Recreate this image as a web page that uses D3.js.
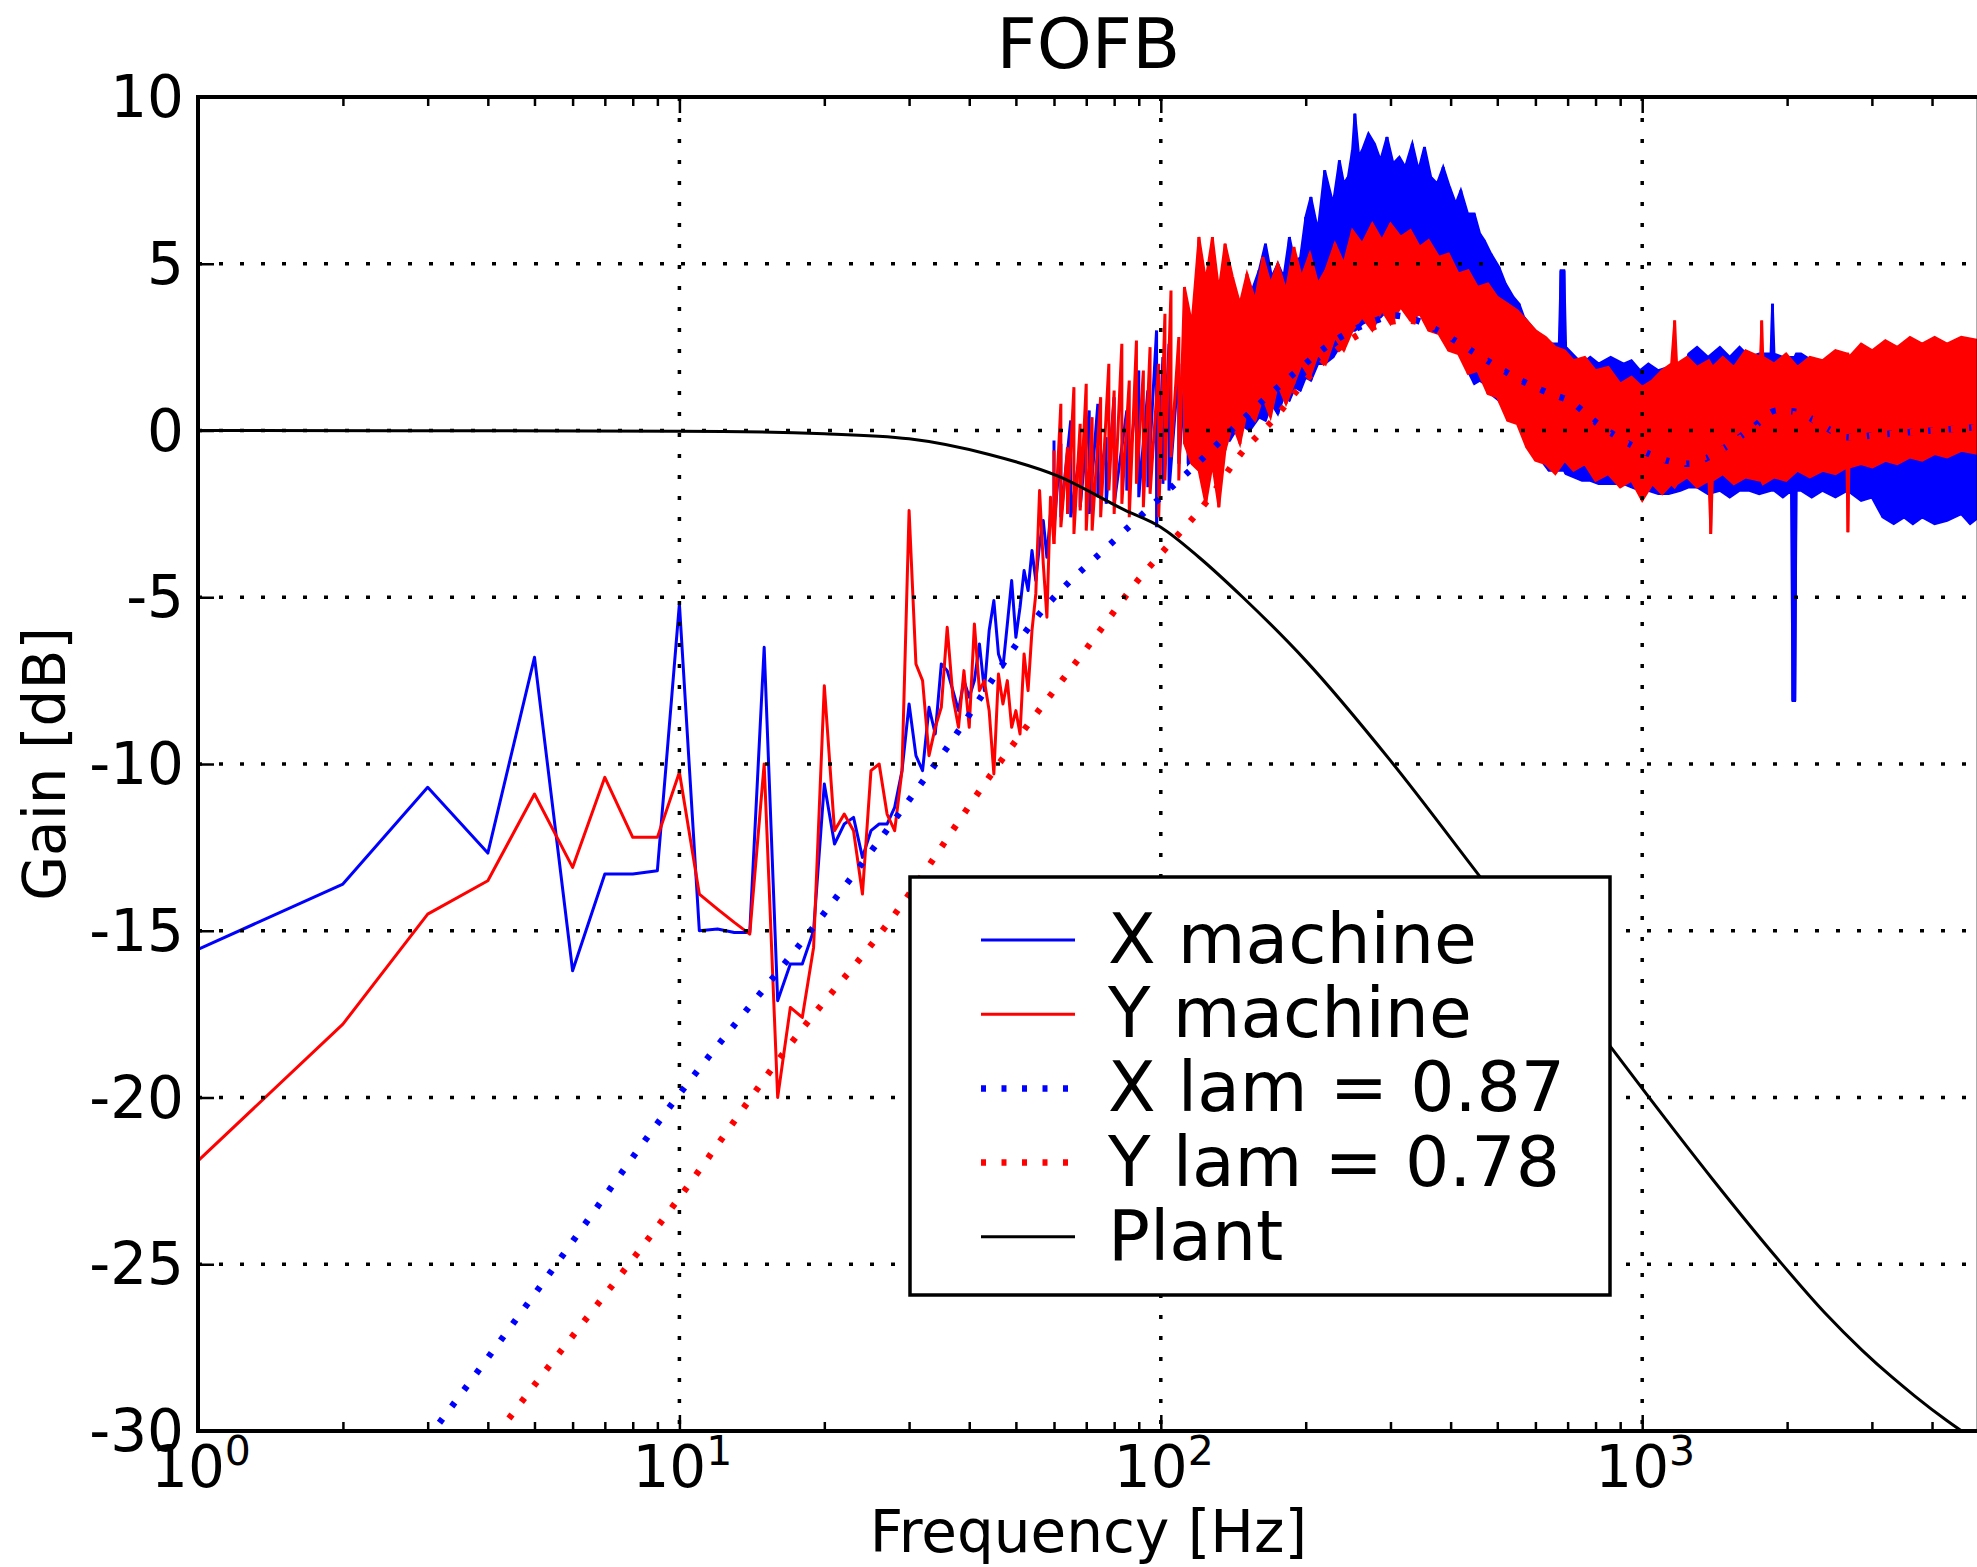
<!DOCTYPE html>
<html>
<head>
<meta charset="utf-8">
<script src="https://cdn.jsdelivr.net/npm/d3@7"></script>
<style>
  body { margin: 0; background: #ffffff; }
  svg { display: block; }
  text { font-family: "DejaVu Sans", sans-serif; fill: #000; }
</style>
</head>
<body>
<svg id="chart" width="1977" height="1567"></svg>
<script>
// ---------------- DATA ----------------
// Low-frequency part: one point per Hz
const lowFreq = [1,2,3,4,5,6,7,8,9,10,11,12,13,14,15,16,17,18,19,20,21,22,23,24,25,26,27,28,29,30,
                 31,32,33,34,35,36,37,38,39,40,41,42,43,44,45,46,47,48,49,50,51,52,53,54,55,56,57,58,59,60];
const xMachineLow = [-15.56,-13.6,-10.7,-12.67,-6.8,-16.2,-13.3,-13.3,-13.2,-5.2,-15.0,-14.95,-15.05,-15.05,-6.5,-17.1,-16.0,-16.0,-15.0,-10.6,
                     -12.4,-11.8,-11.6,-12.8,-12.0,-11.8,-11.8,-11.3,-10.2,-8.2,-9.75,-10.2,-8.3,-9.1,-7.0,-7.2,-7.8,-8.4,-7.5,-8.0,
                     -7.5,-6.4,-7.8,-6.0,-5.1,-6.7,-7.1,-5.8,-4.5,-6.2,-5.3,-4.2,-4.8,-3.6,-4.5,-3.4,-2.7,-3.8,-2.5,-2.9];
const yMachineLow = [-21.9,-17.8,-14.5,-13.5,-10.9,-13.1,-10.4,-12.2,-12.2,-10.25,-13.9,-14.35,-14.75,-15.1,-10.0,-20.0,-17.3,-17.6,-15.5,-7.65,
                     -12.0,-11.5,-12.0,-13.9,-10.2,-10.0,-11.5,-12.0,-10.2,-2.4,-7.0,-7.5,-9.75,-8.9,-8.3,-5.9,-8.0,-8.9,-7.2,-8.9,
                     -5.8,-7.8,-7.5,-8.4,-10.3,-7.3,-8.2,-7.5,-8.9,-8.4,-9.1,-6.7,-7.8,-6.0,-4.9,-1.8,-4.0,-5.6,-2.0,-3.4];

// Dense part (>= 60 Hz): [frequency, upper edge dB, lower edge dB] of the noisy trace
const xMachineBand = [
 [60,-0.3,-2.9],[62,-0.4,-2.6],[65,0.3,-2.6],[68,-0.6,-2.3],[71,0.6,-2.5],[74,0.8,-2.0],[77,-0.2,-2.2],[80,1.0,-2.2],
 [85,0.6,-1.8],[90,1.8,-2.0],[94,1.2,-1.7],[98,3.0,-2.9],[101,2.2,-1.6],[104,2.6,-1.8],[109,2.0,-1.0],[114,3.0,-1.0],
 [118,2.4,-0.8],[121,4.0,-1.0],[126,3.2,-0.6],[130,4.2,-0.5],[135,3.6,-0.2],[139,4.5,-0.3],[146,3.8,0.2],[153,4.0,0.0],
 [160,4.8,0.4],[165,5.6,0.3],[170,4.6,0.8],[175,5.0,0.5],[180,4.6,1.0],[185,5.8,0.9],[190,5.0,1.3],[195,5.2,1.2],
 [200,6.4,1.6],[205,7.0,1.5],[212,6.0,2.0],[219,7.8,2.0],[228,6.8,2.2],[235,8.1,2.5],[240,7.4,2.7],[245,7.6,2.8],
 [250,8.4,3.0],[253,9.5,3.0],[258,8.2,3.1],[262,8.4,3.2],[270,8.9,3.3],[278,8.6,3.5],[286,8.1,3.4],[295,8.8,3.6],
 [304,8.0,3.5],[313,8.2,3.8],[322,7.9,3.6],[333,8.6,3.7],[343,7.8,3.6],[353,8.5,3.5],[364,7.6,3.2],[375,7.4,3.2],
 [386,7.9,3.0],[398,7.3,3.0],[410,6.8,2.6],[420,7.2,2.2],[434,6.5,1.8],[448,6.5,1.4],[460,5.9,1.5],[470,5.7,1.4],
 [485,5.3,1.1],[504,4.9,0.9],[520,4.4,0.6],[540,4.0,0.4],[555,3.8,0.2],[568,3.4,-0.2],[590,3.1,-0.6],[610,2.9,-0.8],
 [640,2.6,-1.2],[672,2.6,-1.2],[678,4.8,-1.2],[688,4.8,-1.2],[694,2.5,-1.3],[750,2.0,-1.5],[780,2.2,-1.5],[812,2.0,-1.6],
 [860,2.2,-1.6],[915,2.0,-1.6],[950,2.1,-1.7],[990,1.8,-1.8],[1030,2.0,-1.8],[1080,1.8,-1.9],[1135,1.9,-1.9],[1200,1.6,-1.8],
 [1250,2.3,-1.7],[1300,2.5,-1.7],[1370,2.2,-1.9],[1450,2.5,-1.8],[1520,2.2,-2.0],[1593,2.5,-1.8],[1670,2.2,-1.8],[1750,2.3,-1.9],
 [1850,2.3,-1.8],[1865,3.8,-1.8],[1880,2.3,-1.8],[1960,2.2,-2.0],[2040,2.2,-1.8],[2055,2.2,-8.1],[2075,2.2,-8.1],[2090,2.3,-1.8],
 [2137,2.3,-1.8],[2250,2.1,-2.0],[2370,2.0,-1.8],[2520,1.9,-2.0],[2670,1.8,-1.8],[2850,1.6,-2.1],[3000,1.5,-2.0],[3160,0.5,-2.6],
 [3330,0.4,-2.8],[3500,0.3,-2.6],[3650,0.3,-2.8],[3815,0.3,-2.6],[4050,0.4,-2.8],[4298,0.3,-2.7],[4600,0.4,-2.5],[4800,0.4,-2.8],
 [5000,0.5,-2.6]];
const yMachineBand = [
 [60,-0.6,-3.4],[62,0.8,-2.9],[64,-0.5,-2.5],[66,1.3,-3.1],[68,0.2,-2.4],[70,1.4,-3.0],[72,0.4,-3.0],[75,1.0,-2.6],
 [78,2.0,-1.8],[80,1.2,-2.5],[83,2.6,-2.2],[86,1.5,-2.6],[89,2.7,-1.6],[92,1.8,-2.3],[95,2.5,-1.9],[99,2.0,-2.6],
 [102,3.5,-1.5],[105,4.2,-0.8],[109,2.8,-1.5],[112,4.3,-0.4],[116,3.2,-1.0],[120,5.8,-1.2],[124,4.5,-2.2],[128,5.8,-1.0],
 [132,4.2,-2.3],[136,5.6,-0.6],[141,4.6,0.2],[146,3.8,-0.4],[151,4.7,0.6],[157,3.9,0.3],[163,5.2,1.0],[169,4.4,0.4],
 [175,5.0,1.4],[182,4.2,0.8],[189,5.5,1.4],[196,4.6,2.0],[204,5.3,1.6],[212,4.4,2.3],[220,4.8,2.0],[230,5.6,2.8],
 [240,5.0,2.4],[250,6.0,3.0],[262,5.6,3.4],[275,6.2,3.0],[288,5.7,3.6],[300,6.2,3.2],[315,5.8,3.7],[330,6.0,3.3],
 [345,5.5,3.5],[360,5.7,3.0],[378,5.2,2.9],[396,5.3,2.4],[415,4.7,2.3],[435,4.8,1.7],[455,4.3,1.8],[478,4.4,1.1],
 [500,4.0,1.0],[525,3.8,0.3],[550,3.6,0.2],[575,3.3,-0.5],[600,3.0,-0.9],[630,2.8,-1.0],[660,2.5,-1.3],[690,2.4,-0.9],
 [720,2.1,-1.2],[760,2.2,-1.0],[800,1.8,-1.5],[850,1.9,-1.3],[900,1.4,-1.7],[950,1.6,-1.5],[1000,1.3,-2.1],[1050,1.5,-1.6],
 [1100,1.8,-1.9],[1150,2.0,-1.6],[1168,3.3,-1.7],[1180,2.0,-1.6],[1240,2.2,-1.4],[1300,1.9,-1.7],[1375,2.1,-1.5],[1388,2.0,-3.1],
 [1400,1.9,-1.5],[1470,2.2,-1.3],[1550,1.9,-1.6],[1640,2.4,-1.4],[1760,2.2,-1.5],[1771,3.3,-1.5],[1782,2.2,-1.6],[1880,2.0,-1.4],
 [1990,2.3,-1.5],[2100,1.9,-1.2],[2230,2.2,-1.4],[2370,2.1,-1.2],[2520,2.4,-1.3],[2660,2.3,-1.1],[2675,2.3,-3.05],[2690,2.2,-1.1],
 [2850,2.6,-1.0],[3006,2.4,-1.1],[3200,2.7,-0.9],[3386,2.5,-1.0],[3600,2.8,-0.8],[3815,2.6,-0.9],[4050,2.8,-0.7],[4298,2.6,-0.8],
 [4600,2.8,-0.6],[5000,2.7,-0.7]];

// Model curves
const xLamFreq = [2.5,3.08,5,10,19.2,35,57.5,80,100,125,140,187,232,280,305,340,393,476,560,645,703,809,959,1107,1250,1450,1700,1910,2100,2400,2668,3250,4000,5000];
const xLamDb   = [-31.7,-30,-25.9,-19.9,-14.8,-9.75,-5.3,-3.3,-2.0,-0.7,0.0,1.65,2.73,3.3,3.45,3.3,2.84,2.1,1.5,1.1,0.9,0.2,-0.47,-0.87,-1.0,-0.6,0.1,0.6,0.55,0.1,-0.2,-0.1,0.0,0.1];
const yLamFreq = [3.5,4.23,10,17,27.7,45,73,90.7,100,125,146,172,201,236,277,320,370,430,500,600,700,800,1000,1200,1400,1700,2000,2300,2700,3300,5000];
const yLamDb   = [-31.6,-30,-23.0,-18.4,-14.6,-10.2,-6.2,-4.4,-3.7,-2.1,-0.73,0.35,1.54,2.5,3.1,3.3,3.1,2.5,1.8,1.1,0.6,0.1,-0.6,-0.95,-0.7,0.0,0.5,0.3,-0.2,-0.1,0.1];
const plantFreq = [1,10,20,30,44,61,84,100,120,148,200,300,456,650,867,1021,1400,1914,2400,2864,3300,3690,4285,5000];
const plantDb   = [0,-0.02,-0.1,-0.25,-0.72,-1.36,-2.38,-2.9,-3.8,-5.0,-6.9,-9.9,-13.3,-16.2,-18.55,-19.9,-22.45,-24.85,-26.47,-27.58,-28.38,-28.96,-29.68,-30.35];

// Axes / text
const xMajorTicks = [1,10,100,1000];
const xTickExponents = ["0","1","2","3"];
const xMinorTicks = [2,3,4,5,6,7,8,9,20,30,40,50,60,70,80,90,200,300,400,500,600,700,800,900,2000,3000,4000];
const yTicks = [-30,-25,-20,-15,-10,-5,0,5,10];
const yGrid = [-25,-20,-15,-10,-5,0,5];
const xGrid = [10,100,1000];
const titleText = "FOFB";
const xLabelText = "Frequency [Hz]";
const yLabelText = "Gain [dB]";
const legendLabels = ["X machine","Y machine","X lam = 0.87","Y lam = 0.78","Plant"];

// ---------------- DRAWING ----------------
const svg = d3.select("#chart");
svg.append("rect").attr("width",1977).attr("height",1567).attr("fill","#fff");

const L = 198, T = 97, B = 1431;
const R = L + 481.4 * Math.log10(5000);
const x = d3.scaleLog().domain([1,5000]).range([L,R]);
const y = d3.scaleLinear().domain([-30,10]).range([B,T]);

svg.append("defs").append("clipPath").attr("id","clip")
  .append("rect").attr("x",L).attr("y",T).attr("width",R-L).attr("height",B-T);

const plot = svg.append("g").attr("clip-path","url(#clip)");
const line = d3.line().x(d=>x(d[0])).y(d=>y(d[1]));
const smooth = d3.line().x(d=>x(d[0])).y(d=>y(d[1])).curve(d3.curveMonotoneX);
const band = d3.area().x(d=>x(d[0])).y0(d=>y(d[2])).y1(d=>y(d[1]));

function drawMachine(freqLow, valsLow, bandData, color){
  plot.append("path").datum(freqLow.map((f,i)=>[f,valsLow[i]]))
    .attr("d",line).attr("fill","none").attr("stroke",color)
    .attr("stroke-width",3).attr("stroke-linejoin","round");
  // solid part of the dense band
  plot.append("path").datum(bandData.filter(d=>d[0]>=110))
    .attr("d",band).attr("fill",color).attr("stroke",color)
    .attr("stroke-width",2.5).attr("stroke-linejoin","miter");
  // jagged trace through the upper and lower excursions
  const zig = [];
  bandData.forEach(d=>{ zig.push([d[0],d[1]]); zig.push([d[0],d[2]]); });
  plot.append("path").datum(zig)
    .attr("d",line).attr("fill","none").attr("stroke",color)
    .attr("stroke-width",3).attr("stroke-linejoin","miter");
}
drawMachine(lowFreq, xMachineLow, xMachineBand, "#0000ff");
drawMachine(lowFreq, yMachineLow, yMachineBand, "#ff0000");

plot.append("path").datum(xLamFreq.map((f,i)=>[f,xLamDb[i]]))
  .attr("d",smooth).attr("fill","none").attr("stroke","#0000ff")
  .attr("stroke-width",6.5).attr("stroke-dasharray","5,15.5");
plot.append("path").datum(yLamFreq.map((f,i)=>[f,yLamDb[i]]))
  .attr("d",smooth).attr("fill","none").attr("stroke","#ff0000")
  .attr("stroke-width",6.5).attr("stroke-dasharray","5,15.5");
plot.append("path").datum(plantFreq.map((f,i)=>[f,plantDb[i]]))
  .attr("d",smooth).attr("fill","none").attr("stroke","#000")
  .attr("stroke-width",3);

// grid (drawn above lines, like matplotlib classic)
const grid = svg.append("g");
grid.selectAll("line.gx").data(xGrid).join("line").attr("class","gx")
  .attr("x1",d=>x(d)).attr("x2",d=>x(d)).attr("y1",T).attr("y2",B)
  .attr("stroke","#000").attr("stroke-width",3.5).attr("stroke-dasharray","4,17");
grid.selectAll("line.gy").data(yGrid).join("line").attr("class","gy")
  .attr("x1",L).attr("x2",R).attr("y1",d=>y(d)).attr("y2",d=>y(d))
  .attr("stroke","#000").attr("stroke-width",3.5).attr("stroke-dasharray","4,17");

// ticks with d3 axes (inward)
function styleAxis(g){
  g.select(".domain").remove();
  g.selectAll(".tick line").attr("stroke","#000").attr("stroke-width",2.5);
}
svg.append("g").attr("transform",`translate(0,${B})`)
  .call(d3.axisBottom(x).tickValues(xMajorTicks).tickSize(-16).tickFormat(()=>"")).call(styleAxis);
svg.append("g").attr("transform",`translate(0,${B})`)
  .call(d3.axisBottom(x).tickValues(xMinorTicks).tickSize(-9).tickFormat(()=>"")).call(styleAxis);
svg.append("g").attr("transform",`translate(0,${T})`)
  .call(d3.axisTop(x).tickValues(xMajorTicks).tickSize(-16).tickFormat(()=>"")).call(styleAxis);
svg.append("g").attr("transform",`translate(0,${T})`)
  .call(d3.axisTop(x).tickValues(xMinorTicks).tickSize(-9).tickFormat(()=>"")).call(styleAxis);
const yAx = svg.append("g").attr("transform",`translate(${L},0)`)
  .call(d3.axisLeft(y).tickValues(yTicks).tickSize(-16).tickPadding(14).tickFormat(d=>String(d)))
  .call(styleAxis);
yAx.selectAll(".tick text").attr("font-size",58).attr("font-family","DejaVu Sans").attr("fill","#000").attr("dy","0.34em");
yAx.attr("font-size",58).attr("font-family","DejaVu Sans");

// x tick labels 10^n
const xl = svg.append("g");
xMajorTicks.forEach((v,i)=>{
  const t = xl.append("text").attr("x",x(v)+3).attr("y",1487)
    .attr("text-anchor","middle").attr("font-size",58);
  t.append("tspan").text("10");
  t.append("tspan").attr("font-size",41).attr("dy",-22).text(xTickExponents[i]);
});

// spines
const sp = svg.append("g").attr("stroke","#000").attr("stroke-width",4).attr("stroke-linecap","square");
sp.append("line").attr("x1",L).attr("x2",L).attr("y1",T).attr("y2",B);
sp.append("line").attr("x1",L).attr("x2",R).attr("y1",T).attr("y2",T);
sp.append("line").attr("x1",L).attr("x2",R).attr("y1",B).attr("y2",B);
sp.append("line").attr("x1",R).attr("x2",R).attr("y1",T).attr("y2",B);

// titles
svg.append("text").attr("x",(L+R)/2).attr("y",68).attr("text-anchor","middle")
  .attr("font-size",70).text(titleText);
svg.append("text").attr("x",(L+R)/2).attr("y",1552).attr("text-anchor","middle")
  .attr("font-size",58).text(xLabelText);
svg.append("text").attr("transform",`translate(65,${(T+B)/2}) rotate(-90)`)
  .attr("text-anchor","middle").attr("font-size",58).text(yLabelText);

// legend
const lg = svg.append("g");
lg.append("rect").attr("x",910).attr("y",877).attr("width",700).attr("height",418)
  .attr("fill","#fff").attr("stroke","#000").attr("stroke-width",3.5);
const legendStyles = [
  {c:"#0000ff", w:3, dash:null},
  {c:"#ff0000", w:3, dash:null},
  {c:"#0000ff", w:6.5, dash:"5,15.5"},
  {c:"#ff0000", w:6.5, dash:"5,15.5"},
  {c:"#000", w:3, dash:null}
];
legendLabels.forEach((lab,i)=>{
  const yy = 940 + i*74.2;
  const ln = lg.append("line").attr("x1",981).attr("x2",1075).attr("y1",yy).attr("y2",yy)
    .attr("stroke",legendStyles[i].c).attr("stroke-width",legendStyles[i].w);
  if (legendStyles[i].dash) ln.attr("stroke-dasharray",legendStyles[i].dash);
  lg.append("text").attr("x",1108).attr("y",yy+23).attr("font-size",69.6).text(lab);
});
</script>
</body>
</html>
